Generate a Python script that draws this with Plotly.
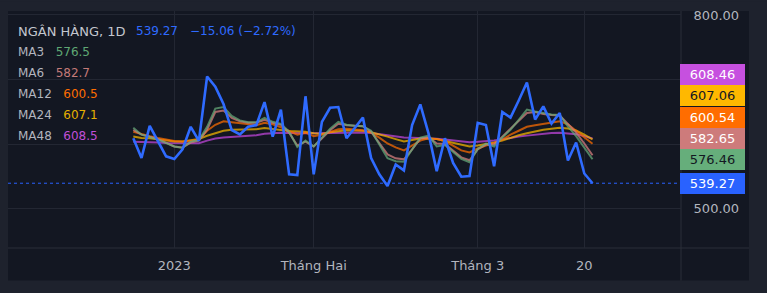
import plotly.graph_objects as go

# ---------------- data ----------------
dates = [
    "2022-12-26", "2022-12-27", "2022-12-28", "2022-12-29", "2022-12-30",
    "2023-01-03", "2023-01-04", "2023-01-05", "2023-01-06",
    "2023-01-09", "2023-01-10", "2023-01-11", "2023-01-12", "2023-01-13",
    "2023-01-16", "2023-01-17", "2023-01-18", "2023-01-19", "2023-01-20",
    "2023-01-27", "2023-01-30", "2023-01-31",
    "2023-02-01", "2023-02-02", "2023-02-03",
    "2023-02-06", "2023-02-07", "2023-02-08", "2023-02-09", "2023-02-10",
    "2023-02-13", "2023-02-14", "2023-02-15", "2023-02-16", "2023-02-17",
    "2023-02-20", "2023-02-21", "2023-02-22", "2023-02-23", "2023-02-24",
    "2023-02-27", "2023-02-28",
    "2023-03-01", "2023-03-02", "2023-03-03",
    "2023-03-06", "2023-03-07", "2023-03-08", "2023-03-09", "2023-03-10",
    "2023-03-13", "2023-03-14", "2023-03-15", "2023-03-16", "2023-03-17",
    "2023-03-20", "2023-03-21",
]

close = [608.9, 578.3, 628.2, 603.8, 580.9, 576.8, 591.6, 626.7, 605.0, 704.6,
         689.0, 662.0, 621.7, 615.0, 626.7, 629.3, 664.9, 611.5, 653.1, 553.0,
         551.9, 674.0, 553.0, 634.4, 656.2, 657.3, 608.9, 624.9, 640.9, 578.3,
         553.0, 535.1, 568.2, 559.1, 629.3, 661.4, 616.5, 558.0, 608.9, 570.7,
         549.3, 550.4, 632.8, 629.3, 565.6, 649.6, 640.9, 667.5, 695.4, 637.9,
         658.3, 631.8, 648.1, 574.4, 602.3, 554.33, 539.27]

ma3 = [625.2, 614.5, 610.7, 606.9, 601.5, 596.2, 593.9, 603.8, 606.1, 626.7,
       655.0, 657.3, 643.5, 636.6, 633.6, 633.6, 640.5, 634.4, 631.3, 619.1,
       595.4, 605.3, 596.2, 610.0, 623.7, 634.4, 629.8, 628.2, 627.5, 620.6,
       599.2, 577.9, 573.3, 572.5, 591.6, 610.0, 613.0, 596.2, 598.5, 588.5,
       577.1, 571.8, 592.4, 600.8, 596.2, 610.0, 622.1, 637.4, 653.4, 650.4,
       648.1, 645.8, 645.0, 627.5, 612.2, 594.7, 576.46]

ma6 = [621.9, 614.5, 611.5, 607.6, 602.3, 596.2, 594.7, 602.3, 605.3, 622.1,
       649.6, 651.9, 640.5, 635.1, 632.8, 632.8, 637.4, 632.8, 629.8, 617.6,
       597.7, 603.8, 596.2, 608.4, 621.4, 631.3, 629.0, 628.2, 627.5, 619.1,
       602.3, 584.0, 577.9, 576.3, 591.6, 608.4, 610.7, 600.8, 600.0, 590.1,
       579.4, 574.8, 591.6, 599.2, 599.2, 611.5, 623.7, 635.9, 648.1, 649.6,
       646.6, 645.0, 644.3, 631.3, 617.6, 600.8, 582.65]

ma12 = [619.1, 615.3, 612.2, 609.2, 606.9, 604.6, 603.8, 604.9, 607.6, 620.6,
        629.8, 635.1, 633.6, 632.1, 630.5, 629.3, 632.8, 630.5, 626.0, 619.8,
        614.5, 617.6, 612.2, 614.5, 619.1, 622.9, 623.7, 622.1, 621.4, 617.6,
        609.9, 600.8, 594.7, 590.1, 597.7, 605.3, 608.9, 607.6, 604.6, 597.7,
        590.1, 587.1, 593.1, 597.7, 601.5, 606.9, 614.5, 620.6, 626.7, 629.0,
        631.3, 632.8, 635.1, 630.5, 620.6, 610.7, 600.54]

ma24 = [611.5, 609.5, 608.9, 607.6, 605.3, 604.1, 604.1, 606.1, 607.9, 612.9,
        616.8, 620.6, 622.1, 622.6, 622.6, 622.9, 624.9, 623.7, 621.7, 620.1,
        619.1, 619.1, 616.8, 615.6, 618.3, 619.8, 621.4, 620.9, 620.6, 618.3,
        615.3, 611.5, 607.6, 603.8, 606.1, 608.4, 608.7, 607.9, 604.6, 601.5,
        598.5, 596.2, 597.7, 599.5, 602.3, 605.3, 609.9, 613.7, 616.8, 619.8,
        622.1, 623.7, 625.2, 624.0, 620.9, 614.5, 607.06]

ma48 = [603.4, 603.4, 603.4, 602.3, 601.5, 601.2, 601.2, 601.2, 601.2, 605.3,
        608.4, 610.2, 611.1, 611.8, 612.4, 613.6, 616.0, 616.9, 617.6, 617.1,
        616.5, 616.5, 616.5, 616.8, 617.3, 617.6, 617.6, 617.6, 617.9, 617.1,
        615.3, 613.3, 611.5, 610.2, 609.6, 609.3, 609.0, 608.1, 606.9, 605.3,
        603.8, 602.9, 603.4, 604.1, 605.3, 607.2, 609.6, 611.5, 613.0, 614.5,
        616.0, 617.1, 617.3, 616.6, 615.3, 612.2, 608.46]

ma_names = ["MA3", "MA6", "MA12", "MA24", "MA48"]
ma_legend_values = ["576.5", "582.7", "600.5", "607.1", "608.5"]

title_text = "NGÂN HÀNG, 1D"
last_text = "539.27"
change_text = "\u221215.06 (\u22122.72%)"

tick_dates = ["2023-01-03", "2023-02-01", "2023-03-01", "2023-03-20"]
tick_text = ["2023", "Tháng Hai", "Tháng 3", "20"]
y_tickvals = [500, 600, 700, 800]
y_ticktext = ["500.00", "", "", "800.00"]

# ---------------- style ----------------
W, H = 767, 293
L, R, T, B = 8, 86, 8, 45
PW = W - L - R
PH = H - T - B
y_range = [438.9, 806.1]
x_range = [-15.28, 66.79]

FRAME = "#1e222d"
PANE = "#131722"
GRID = "#232733"
SEP = "#2a2e39"
TXT = "#b2b5be"
FONT = "DejaVu Sans"

ma_series = [ma3, ma6, ma12, ma24, ma48]
ma_line_colors = ["rgba(102,170,122,0.72)", "rgba(205,122,122,0.78)",
                  "rgba(255,109,0,0.72)", "rgba(240,178,0,0.75)",
                  "rgba(190,70,215,0.75)"]
ma_text_colors = ["#5fa874", "#c47a78", "#ff6d00", "#e6b000", "#c04fd8"]
ma_tag_colors = ["#66ae7b", "#cd7b7b", "#ff6d00", "#ffb800", "#c650df"]
ma_tag_font = ["#131722", "#ffffff", "#ffffff", "#131722", "#ffffff"]
BLUE = "#2f6bff"
BLUE_TAG = "#2962ff"


def px_x(px):
    return (px - L) / PW


def px_y(py):
    return (H - B - py) / PH


fig = go.Figure()

for name, series, col in reversed(list(zip(ma_names, ma_series, ma_line_colors))):
    fig.add_trace(go.Scatter(x=dates, y=series, mode="lines", name=name,
                             line=dict(color=col, width=2), hoverinfo="skip"))
fig.add_trace(go.Scatter(x=dates, y=close, mode="lines", name=title_text,
                         line=dict(color=BLUE, width=2.6), hoverinfo="skip"))

shapes = [
    # inner dark area (pane + scales)
    dict(type="rect", xref="paper", yref="paper", layer="below",
         x0=px_x(8), x1=px_x(749), y0=px_y(281), y1=px_y(8),
         fillcolor=PANE, line=dict(width=0)),
    # separators
    dict(type="line", xref="paper", yref="paper", layer="below",
         x0=1, x1=1, y0=px_y(281), y1=px_y(8), line=dict(color=SEP, width=1)),
    dict(type="line", xref="paper", yref="paper", layer="below",
         x0=0, x1=px_x(749), y0=0, y1=0, line=dict(color=SEP, width=1)),
    # last price dotted line
    dict(type="line", xref="paper", yref="y", layer="above",
         x0=0, x1=1, y0=close[-1], y1=close[-1],
         line=dict(color=BLUE_TAG, width=1, dash="dot")),
    # top frame strip (clips the 800.00 label)
    dict(type="rect", xref="paper", yref="paper", layer="above",
         x0=px_x(0), x1=px_x(767), y0=px_y(8), y1=px_y(-2),
         fillcolor=FRAME, line=dict(width=0)),
]

annotations = []
# header
hdr_y = px_y(28.3)
annotations.append(dict(xref="paper", yref="paper", x=px_x(16), y=hdr_y,
                        xanchor="left", yanchor="middle", showarrow=False,
                        text=title_text, font=dict(family=FONT, size=13, color="#c3c6ce")))
annotations.append(dict(xref="paper", yref="paper", x=px_x(134), y=hdr_y,
                        xanchor="left", yanchor="middle", showarrow=False,
                        text=last_text, font=dict(family=FONT, size=12, color=BLUE)))
annotations.append(dict(xref="paper", yref="paper", x=px_x(188), y=hdr_y,
                        xanchor="left", yanchor="middle", showarrow=False,
                        text=change_text, font=dict(family=FONT, size=12, color=BLUE)))
row_h = 21.2
for k, (nm, val, col) in enumerate(zip(ma_names, ma_legend_values, ma_text_colors)):
    txt = f"{nm}\u00a0\u00a0\u00a0<span style='color:{col}'>{val}</span>"
    annotations.append(dict(xref="paper", yref="paper", x=px_x(16),
                            y=px_y(28.3 + row_h * (k + 1)),
                            xanchor="left", yanchor="middle", showarrow=False,
                            text=txt, font=dict(family=FONT, size=12, color=TXT)))

# price tags on the scale, stacked so they do not overlap
units_per_px = (y_range[1] - y_range[0]) / PH
tag_vals = [close[-1]] + [s[-1] for s in ma_series]
tag_bg = [BLUE_TAG] + ma_tag_colors
tag_fg = ["#ffffff"] + ma_tag_font
tag_h = 21.2
prev_center = None
for v, bg, fg in zip(tag_vals, tag_bg, tag_fg):
    actual_px = (y_range[1] - v) / units_per_px + T
    center = actual_px if prev_center is None else min(actual_px, prev_center - tag_h)
    prev_center = center
    annotations.append(dict(xref="paper", yref="y", x=1, y=v, xshift=-1,
                            yshift=actual_px - center,
                            xanchor="left", yanchor="middle", showarrow=False,
                            text=f"{v:.2f}", width=61, height=17, borderpad=2,
                            bgcolor=bg, borderwidth=0,
                            font=dict(family=FONT, size=13, color=fg)))

fig.update_layout(
    width=W, height=H,
    margin=dict(l=L, r=R, t=T, b=B, pad=0),
    paper_bgcolor=FRAME, plot_bgcolor=PANE,
    showlegend=False,
    shapes=shapes, annotations=annotations,
    xaxis=dict(type="category", range=x_range, tickmode="array",
               tickvals=tick_dates, ticktext=tick_text,
               showgrid=True, gridcolor=GRID, gridwidth=1,
               zeroline=False, showline=False,
               ticks="outside", ticklen=5, tickcolor="rgba(0,0,0,0)",
               tickfont=dict(family=FONT, size=13, color=TXT),
               fixedrange=True),
    yaxis=dict(side="right", range=y_range, tickmode="array",
               tickvals=y_tickvals, ticktext=y_ticktext,
               showgrid=True, gridcolor=GRID, gridwidth=1,
               zeroline=False, showline=False,
               ticks="outside", ticklen=9, tickcolor="rgba(0,0,0,0)",
               tickfont=dict(family=FONT, size=13, color=TXT),
               fixedrange=True),
)

fig.write_html("out.html", config={"displayModeBar": False})
